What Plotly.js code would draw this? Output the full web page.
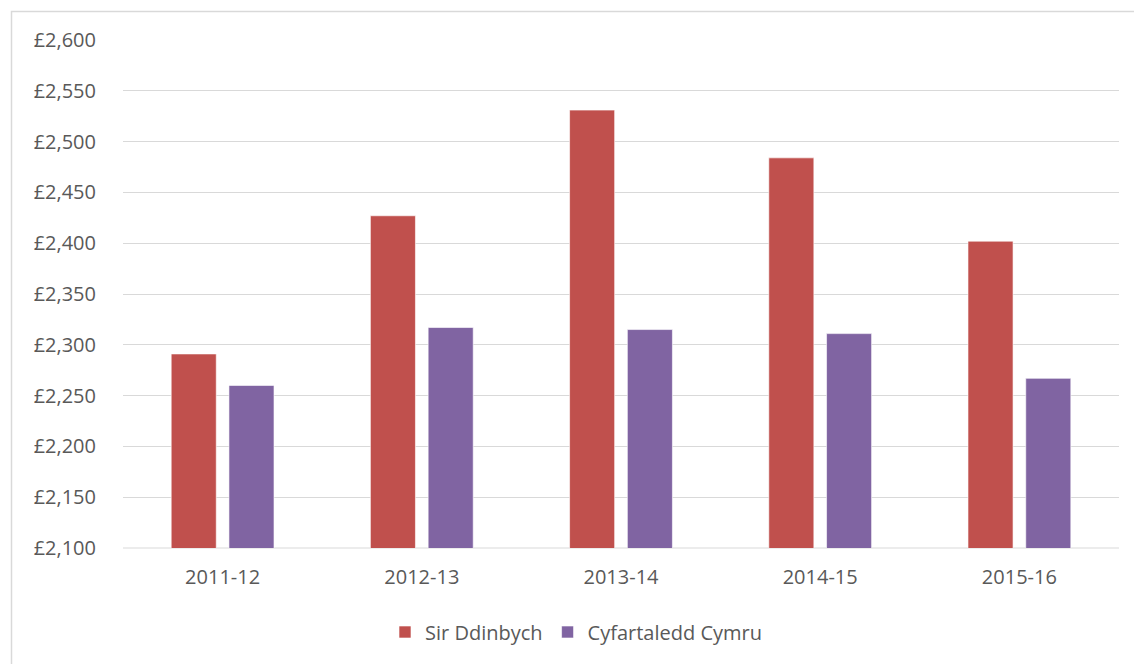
<!DOCTYPE html>
<html>
<head>
<meta charset="utf-8">
<script src="https://cdn.plot.ly/plotly-3.0.1.min.js"></script>
<style>
html,body{margin:0;padding:0;background:#fff;}
#chart{width:1134px;height:664px;}
</style>
</head>
<body>
<div id="chart"></div>
<script>
const categories = ["2011-12", "2012-13", "2013-14", "2014-15", "2015-16"];
const sirDdinbych = [2291, 2427, 2531, 2484, 2402];
const cyfartaleddCymru = [2260, 2317, 2315, 2311, 2267];
const seriesNames = ["Sir Ddinbych", "Cyfartaledd Cymru"];
const yTickVals = [2100, 2150, 2200, 2250, 2300, 2350, 2400, 2450, 2500, 2550, 2600];
const yTickText = ["£2,100", "£2,150", "£2,200", "£2,250", "£2,300", "£2,350", "£2,400", "£2,450", "£2,500", "£2,550", "£2,600"];

const W = 1134, H = 664;
const m = {l: 123, r: 15, t: 40, b: 116};
const pw = W - m.l - m.r, ph = H - m.t - m.b;
const px = x => (x - m.l) / pw;
const py = y => (H - m.b - y) / ph;

const FS = 20;
const font = {family: "Open Sans, Noto Sans, sans-serif", size: FS, color: "#595959"};

const traces = [
  {type: "bar", name: seriesNames[0], x: categories, y: sirDdinbych,
   marker: {color: "#C0504D", line: {color: "rgba(255,255,255,0.6)", width: 1}}},
  {type: "bar", name: seriesNames[1], x: categories, y: cyfartaleddCymru,
   marker: {color: "#8064A2", line: {color: "rgba(255,255,255,0.6)", width: 1}}}
];

const layout = {
  width: W, height: H,
  margin: m,
  paper_bgcolor: "#fff", plot_bgcolor: "#fff",
  font: font,
  barmode: "group",
  bargap: 0.42,
  bargroupgap: 0.22,
  showlegend: true,
  legend: {orientation: "h", x: px(576), xanchor: "center", y: py(632), yanchor: "middle",
           font: {family: font.family, size: FS, color: "#595959"}, itemwidth: 30, traceorder: "normal"},
  xaxis: {type: "category", showgrid: false, zeroline: false, showline: false,
          ticks: "", tickfont: {size: FS, color: "#595959"}, ticklabelstandoff: 15, fixedrange: true},
  yaxis: {range: [2100, 2600], tickvals: yTickVals, ticktext: yTickText, showgrid: true,
          gridcolor: "#D9D9D9", gridwidth: 1, zeroline: false, showline: false,
          ticks: "", tickfont: {size: FS, color: "#595959"}, ticklabelstandoff: 26, fixedrange: true},
  shapes: [
    {type: "line", xref: "paper", yref: "paper", x0: 0, x1: 1, y0: 0, y1: 0,
     line: {color: "#D9D9D9", width: 1}, layer: "below"},
    {type: "rect", xref: "paper", yref: "paper", x0: px(11.5), x1: px(1140), y0: py(680), y1: py(11.5),
     line: {color: "#D9D9D9", width: 1.5}, fillcolor: "rgba(0,0,0,0)", layer: "below"}
  ]
};

Plotly.newPlot("chart", traces, layout, {displayModeBar: false, staticPlot: true});
</script>
</body>
</html>
